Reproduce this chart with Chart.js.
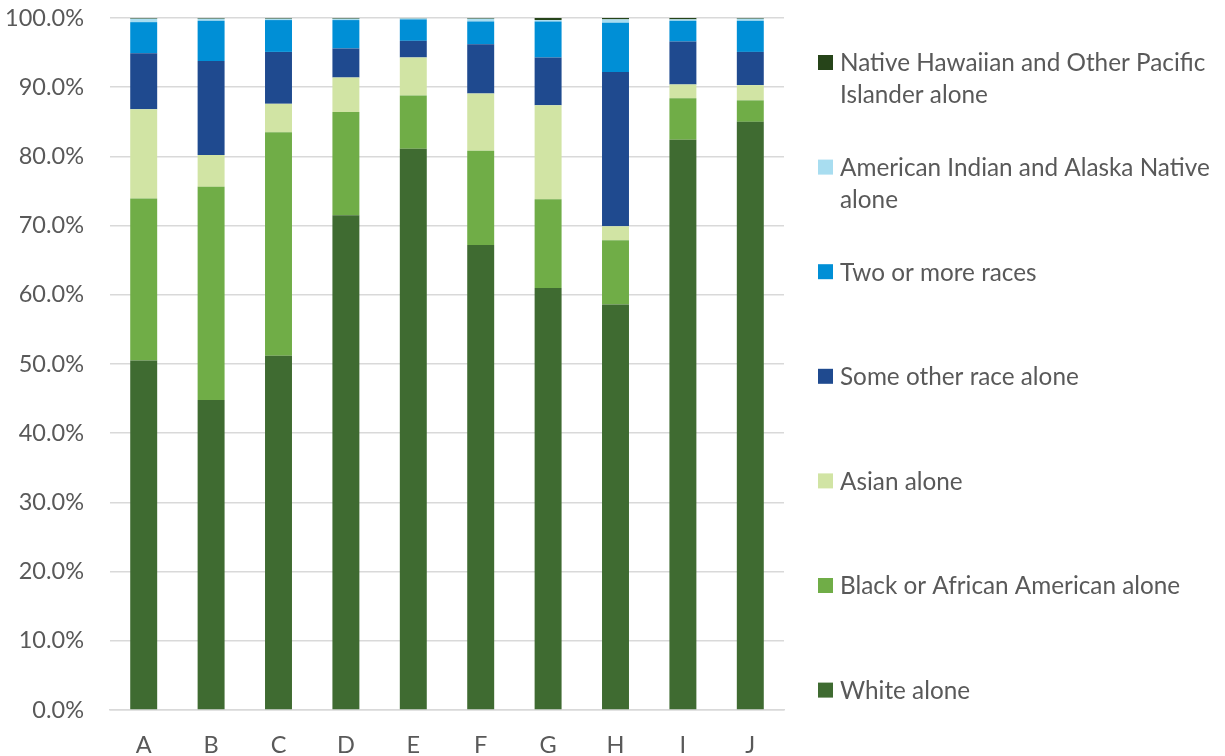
<!DOCTYPE html>
<html>
<head>
<meta charset="utf-8">
<script src="https://cdn.jsdelivr.net/npm/chart.js@4.4.1/dist/chart.umd.min.js"></script>
<style>
  html, body { margin: 0; padding: 0; background: #ffffff; }
  #wrap { position: relative; width: 1225px; height: 756px; }
</style>
</head>
<body>
<div id="wrap"><canvas id="c" width="1225" height="756"></canvas></div>
<script>
const categories = ['A', 'B', 'C', 'D', 'E', 'F', 'G', 'H', 'I', 'J'];
const yTickValues = [0, 10, 20, 30, 40, 50, 60, 70, 80, 90, 100];

const whiteAlone = [50.5, 44.8, 51.2, 71.5, 81.1, 67.2, 61.0, 58.6, 82.4, 85.0];
const blackAlone = [23.4, 30.8, 32.3, 14.9, 7.7, 13.6, 12.8, 9.3, 6.0, 3.1];
const asianAlone = [12.9, 4.6, 4.1, 5.0, 5.5, 8.3, 13.6, 2.0, 2.0, 2.2];
const someOtherRace = [8.1, 13.6, 7.5, 4.2, 2.4, 7.1, 6.9, 22.3, 6.2, 4.8];
const twoOrMore = [4.5, 5.8, 4.6, 4.1, 3.1, 3.3, 5.2, 7.1, 3.0, 4.5];
const aianAlone = [0.5, 0.3, 0.2, 0.2, 0.15, 0.4, 0.2, 0.5, 0.2, 0.3];
const nhpiAlone = [0.1, 0.1, 0.1, 0.1, 0.05, 0.1, 0.3, 0.2, 0.2, 0.1];

const seriesNames = [
  'White alone',
  'Black or African American alone',
  'Asian alone',
  'Some other race alone',
  'Two or more races',
  'American Indian and Alaska Native alone',
  'Native Hawaiian and Other Pacific Islander alone'
];
const legendLines = [
  ['White alone'],
  ['Black or African American alone'],
  ['Asian alone'],
  ['Some other race alone'],
  ['Two or more races'],
  ['American Indian and Alaska Native', 'alone'],
  ['Native Hawaiian and Other Pacific', 'Islander alone']
];
const seriesColors = ['#3F6B31', '#70AD47', '#D1E4A4', '#1F4A8F', '#008FD6', '#A8DDF0', '#264419'];
const seriesData = [whiteAlone, blackAlone, asianAlone, someOtherRace, twoOrMore, aianAlone, nhpiAlone];

const FONT = 'Lato, "Open Sans", sans-serif';
const TEXT_COLOR = '#595959';
const GRID_COLOR = '#D9D9D9';

const customLegend = {
  id: 'customLegend',
  afterDraw(chart) {
    const ctx = chart.ctx;
    ctx.save();
    ctx.font = '24.3px ' + FONT;
    ctx.textBaseline = 'middle';
    ctx.textAlign = 'left';
    const n = chart.data.datasets.length;
    for (let k = 0; k < n; k++) {
      const dsIndex = n - 1 - k;
      const ds = chart.data.datasets[dsIndex];
      const yc = 62.5 + k * 104.6;
      ctx.fillStyle = ds.backgroundColor;
      ctx.fillRect(818, yc - 7.5, 15, 15);
      ctx.fillStyle = TEXT_COLOR;
      legendLines[dsIndex].forEach((ln, li) => ctx.fillText(ln, 840, yc + 1 + li * 32));
    }
    ctx.restore();
  }
};

new Chart(document.getElementById('c'), {
  type: 'bar',
  data: {
    labels: categories,
    datasets: seriesNames.map((name, i) => ({
      label: name,
      data: seriesData[i],
      backgroundColor: seriesColors[i],
      borderWidth: 0,
      categoryPercentage: 1.0,
      barPercentage: 0.4
    }))
  },
  options: {
    responsive: false,
    animation: false,
    devicePixelRatio: 1,
    layout: { padding: { left: 0, top: 18, right: 441, bottom: 0 } },
    plugins: { legend: { display: false }, tooltip: { enabled: false } },
    scales: {
      x: {
        stacked: true,
        grid: { display: false, drawTicks: false },
        border: { display: true, color: GRID_COLOR, width: 1.5 },
        ticks: { color: TEXT_COLOR, font: { family: FONT, size: 23.5 }, padding: 21 },
        afterFit(s) { s.height = 46; s.paddingLeft = 0; s.paddingRight = 0; }
      },
      y: {
        stacked: true,
        min: 0,
        max: 100,
        afterBuildTicks(s) { s.ticks = yTickValues.map(v => ({ value: v })); },
        grid: { color: GRID_COLOR, lineWidth: 1.5, drawTicks: false },
        border: { display: false },
        ticks: {
          color: TEXT_COLOR,
          font: { family: FONT, size: 23.5 },
          padding: 26,
          callback: v => v.toFixed(1) + '%'
        },
        afterFit(s) { s.width = 110; s.paddingTop = 0; s.paddingBottom = 0; }
      }
    }
  },
  plugins: [customLegend]
});
</script>
</body>
</html>
